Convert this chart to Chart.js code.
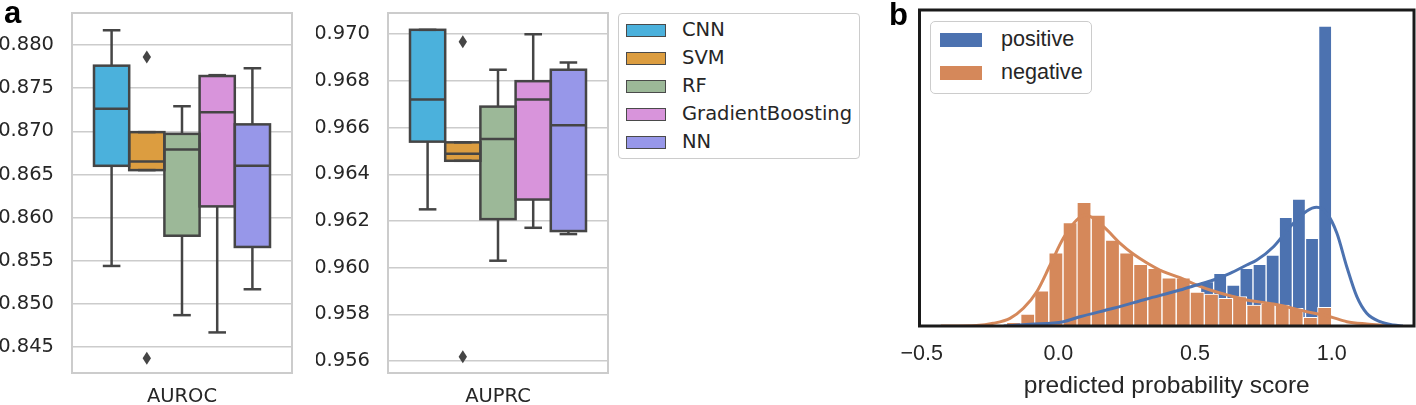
<!DOCTYPE html>
<html>
<head>
<meta charset="utf-8">
<script src="https://cdn.jsdelivr.net/npm/chart.js@4.4.1/dist/chart.umd.min.js"></script>
<style>
  body { margin: 0; background: #fff; }
  #page { position: relative; width: 1416px; height: 405px; overflow: hidden; }
  canvas, .abs { position: absolute; }
  .panel { font: bold 31px "Liberation Sans", Arial, sans-serif; line-height: 31px; color: #000; }
  .row { position: absolute; left: 0; height: 0; }
  .patch { position: absolute; box-sizing: border-box; }
  .txt { position: absolute; white-space: nowrap; color: #262626; }
  #legA { left: 618px; top: 13px; width: 242px; height: 146px; border: 1px solid #cccccc; border-radius: 4px; box-sizing: border-box; }
  #legA .patch { left: 7px; top: -6.5px; width: 40px; height: 13px; border: 1px solid #4a4a4a; }
  #legA .txt { left: 63px; top: -12px; line-height: 24px; font: 19.5px "DejaVu Sans", sans-serif; }
  #legB { left: 930px; top: 21px; width: 162px; height: 73px; border: 1.5px solid #cccccc; border-radius: 5px; box-sizing: border-box; background: #fff; }
  #legB .patch { left: 9px; top: -7px; width: 42px; height: 14px; }
  #legB .txt { left: 70px; top: -14px; line-height: 26px; font: 21.6px "Liberation Sans", Arial, sans-serif; }
</style>
</head>
<body>
<div id="page">
  <canvas id="auroc" width="300" height="405" style="left:0;top:0"></canvas>
  <canvas id="auprc" width="300" height="405" style="left:316px;top:0"></canvas>
  <div id="legA" class="abs"></div>
  <canvas id="hist" width="536" height="405" style="left:880px;top:0"></canvas>
  <div id="legB" class="abs"></div>
  <div class="abs panel" style="left:4px;top:-3px">a</div>
  <div class="abs panel" style="left:889px;top:-1px">b</div>
</div>
<script>
// ---------- panel a: box plots ----------
const models = ['CNN', 'SVM', 'RF', 'GradientBoosting', 'NN'];

const aurocTicks = [0.845, 0.850, 0.855, 0.860, 0.865, 0.870, 0.875, 0.880];
const aurocLow = [0.8544, 0.8655, 0.8487, 0.8467, 0.8517];
const aurocQ1 = [0.8660, 0.8655, 0.8579, 0.8613, 0.8566];
const aurocMedian = [0.8726, 0.8665, 0.8679, 0.8722, 0.8660];
const aurocQ3 = [0.8776, 0.8699, 0.8697, 0.8764, 0.8708];
const aurocHigh = [0.8817, 0.8699, 0.8729, 0.8765, 0.8773];
const aurocOutliers = [[], [0.8786, 0.8437], [], [], []];

const auprcTicks = [0.956, 0.958, 0.960, 0.962, 0.964, 0.966, 0.968, 0.970];
const auprcLow = [0.96250, 0.96458, 0.96030, 0.96171, 0.96144];
const auprcQ1 = [0.96540, 0.96458, 0.96208, 0.96292, 0.96157];
const auprcMedian = [0.96721, 0.96488, 0.96551, 0.96721, 0.96610];
const auprcQ3 = [0.97019, 0.96537, 0.96690, 0.96799, 0.96848];
const auprcHigh = [0.97019, 0.96537, 0.96848, 0.97000, 0.96879];
const auprcOutliers = [[], [0.96968, 0.95619], [], [], []];

// ---------- panel b: histograms + kde ----------
const histTicks = [-0.5, 0.0, 0.5, 1.0];

const negBinWidth = 0.0517;
const negBinCenters = [-0.164, -0.112, -0.061, -0.009, 0.043, 0.094, 0.146, 0.198, 0.250, 0.301, 0.353, 0.405,
  0.457, 0.508, 0.560, 0.612, 0.663, 0.715, 0.767, 0.819, 0.870, 0.922, 0.974];
const negDensity = [0.067, 0.217, 0.638, 1.325, 1.868, 2.237, 2.007, 1.555, 1.325, 1.116, 1.043, 0.873,
  0.873, 0.615, 0.579, 0.501, 0.530, 0.380, 0.410, 0.380, 0.320, 0.157, 0.338];

const posBinWidth = 0.048;
const posBinCenters = [0.544, 0.592, 0.640, 0.688, 0.736, 0.784, 0.832, 0.880, 0.928, 0.976];
const posDensity = [0.801, 0.953, 0.741, 1.043, 1.116, 1.284, 1.966, 2.297, 1.586, 5.425];

const negKdeX = [-0.43, -0.30, -0.238, -0.177, -0.128, -0.079, -0.030, 0.018, 0.067, 0.10, 0.165, 0.226, 0.274,
  0.323, 0.384, 0.445, 0.506, 0.567, 0.628, 0.689, 0.787, 0.909, 0.994, 1.055, 1.128, 1.19, 1.23];
const negKdeY = [0, 0.01, 0.049, 0.139, 0.320, 0.620, 1.103, 1.586, 1.917, 2.007, 1.796, 1.495, 1.302,
  1.145, 0.982, 0.873, 0.741, 0.633, 0.548, 0.470, 0.398, 0.259, 0.168, 0.078, 0.036, 0.013, 0];

const posKdeX = [-0.20, -0.104, 0.018, 0.079, 0.201, 0.323, 0.445, 0.506, 0.567, 0.628, 0.689, 0.726, 0.787,
  0.848, 0.909, 0.945, 0.982, 1.019, 1.055, 1.092, 1.128, 1.177, 1.226, 1.26];
const posKdeY = [0, 0.031, 0.078, 0.168, 0.320, 0.488, 0.651, 0.741, 0.832, 0.953, 1.103, 1.193, 1.434,
  1.796, 2.080, 2.146, 2.038, 1.676, 1.072, 0.530, 0.230, 0.078, 0.018, 0];

// styles
const boxColors = ['#4bb1dc', '#dc9d40', '#9cb898', '#d894db', '#9797e9'];
const boxLine = '#454545';
const gridGray = '#cccccc';
const posColor = '#4c72b0';
const negColor = '#d5885a';

Chart.defaults.font.family = '"DejaVu Sans", sans-serif';
Chart.defaults.color = '#262626';

function framePlugin(color, width) {
  return {
    id: 'frame',
    afterDraw(chart) {
      const { ctx, chartArea: a } = chart;
      ctx.save();
      ctx.strokeStyle = color;
      ctx.lineWidth = width;
      ctx.strokeRect(a.left, a.top, a.right - a.left, a.bottom - a.top);
      ctx.restore();
    }
  };
}

// whiskers, caps, medians, outlines and fliers on top of the floating bars
function boxPlugin(st) {
  return {
    id: 'boxes',
    afterDatasetsDraw(chart) {
      const ctx = chart.ctx;
      const y = chart.scales.y;
      const line = (x1, y1, x2, y2) => { ctx.beginPath(); ctx.moveTo(x1, y1); ctx.lineTo(x2, y2); ctx.stroke(); };
      ctx.save();
      ctx.strokeStyle = boxLine;
      ctx.fillStyle = boxLine;
      ctx.lineWidth = 2.5;
      chart.data.datasets.forEach((ds, i) => {
        const bar = chart.getDatasetMeta(i).data[0];
        const x = bar.x, half = bar.width / 2, cap = half / 2;
        const yLo = y.getPixelForValue(st.low[i]);
        const yQ1 = y.getPixelForValue(st.q1[i]);
        const yMed = y.getPixelForValue(st.med[i]);
        const yQ3 = y.getPixelForValue(st.q3[i]);
        const yHi = y.getPixelForValue(st.high[i]);
        line(x, yQ3, x, yHi);
        line(x, yQ1, x, yLo);
        line(x - cap, yHi, x + cap, yHi);
        line(x - cap, yLo, x + cap, yLo);
        ctx.strokeRect(x - half, yQ3, half * 2, yQ1 - yQ3);
        line(x - half, yMed, x + half, yMed);
        st.out[i].forEach(v => {
          const yy = y.getPixelForValue(v);
          ctx.beginPath();
          ctx.moveTo(x, yy - 6.5);
          ctx.lineTo(x + 4.2, yy);
          ctx.lineTo(x, yy + 6.5);
          ctx.lineTo(x - 4.2, yy);
          ctx.closePath();
          ctx.fill();
        });
      });
      ctx.restore();
    }
  };
}

function boxChart(id, metric, st, ticks, yMin, yMax) {
  return new Chart(document.getElementById(id), {
    type: 'bar',
    data: {
      labels: [metric],
      datasets: models.map((m, i) => ({
        label: m,
        data: [[st.q1[i], st.q3[i]]],
        backgroundColor: boxColors[i],
        borderWidth: 0,
        categoryPercentage: 0.8,
        barPercentage: 1
      }))
    },
    options: {
      responsive: false,
      animation: false,
      layout: { padding: { top: 13, right: 8, left: 0, bottom: 0 } },
      plugins: { legend: { display: false }, tooltip: { enabled: false } },
      scales: {
        x: {
          grid: { display: false, drawTicks: false },
          border: { display: false },
          ticks: { padding: 12, font: { size: 19.5 } },
          afterFit: s => { s.height = 32; }
        },
        y: {
          min: yMin,
          max: yMax,
          bounds: 'data',
          beginAtZero: false,
          grid: { color: gridGray, lineWidth: 1.5, drawTicks: false },
          border: { display: false },
          ticks: {
            padding: 18,
            font: { size: 19.5 },
            callback: v => v.toFixed(3)
          },
          afterBuildTicks: s => { s.ticks = ticks.map(v => ({ value: v })); },
          afterFit: s => { s.width = 72; s.paddingTop = 0; s.paddingBottom = 0; }
        }
      }
    },
    plugins: [boxPlugin(st), framePlugin(gridGray, 2)]
  });
}

boxChart('auroc', 'AUROC',
  { low: aurocLow, q1: aurocQ1, med: aurocMedian, q3: aurocQ3, high: aurocHigh, out: aurocOutliers },
  aurocTicks, 0.8420, 0.8837);
boxChart('auprc', 'AUPRC',
  { low: auprcLow, q1: auprcQ1, med: auprcMedian, q3: auprcQ3, high: auprcHigh, out: auprcOutliers },
  auprcTicks, 0.95549, 0.97091);

// legend a
const legA = document.getElementById('legA');
models.forEach((m, i) => {
  const row = document.createElement('div');
  row.className = 'row';
  row.style.top = (16 + i * 28) + 'px';
  row.innerHTML = `<span class="patch" style="background:${boxColors[i]}"></span><span class="txt">${m}</span>`;
  legA.appendChild(row);
});

// ---------- panel b ----------
const xy = (xs, ys) => xs.map((x, i) => ({ x: x, y: ys[i] }));
const binPx = w => c => {
  const s = c.chart.scales.x;
  const px = s ? Math.abs(s.getPixelForValue(w) - s.getPixelForValue(0)) : NaN;
  return isFinite(px) && px > 0 ? px : undefined;
};
const fontB = { family: '"Liberation Sans", Arial, sans-serif', size: 21.5 };

new Chart(document.getElementById('hist'), {
  type: 'bar',
  data: {
    datasets: [
      { type: 'line', label: 'positive kde', data: xy(posKdeX, posKdeY), borderColor: posColor, borderWidth: 3,
        pointRadius: 0, fill: false, cubicInterpolationMode: 'monotone', order: 0 },
      { type: 'line', label: 'negative kde', data: xy(negKdeX, negKdeY), borderColor: negColor, borderWidth: 3,
        pointRadius: 0, fill: false, cubicInterpolationMode: 'monotone', order: 1 },
      { type: 'bar', label: 'negative', data: xy(negBinCenters, negDensity), backgroundColor: negColor,
        borderColor: '#ffffff', borderWidth: 1, grouped: false, barThickness: binPx(negBinWidth), order: 2 },
      { type: 'bar', label: 'positive', data: xy(posBinCenters, posDensity), backgroundColor: posColor,
        borderColor: '#ffffff', borderWidth: 1, grouped: false, barThickness: binPx(posBinWidth), order: 3 }
    ]
  },
  options: {
    responsive: false,
    animation: false,
    layout: { padding: { left: 39.5, right: 2, top: 10, bottom: 0 } },
    plugins: { legend: { display: false }, tooltip: { enabled: false } },
    scales: {
      x: {
        type: 'linear',
        min: -0.508,
        max: 1.301,
        bounds: 'data',
        offset: false,
        grid: { display: false, offset: false, drawTicks: false },
        border: { display: false },
        ticks: {
          padding: 15,
          font: fontB,
          color: '#262626',
          callback: v => (v < 0 ? '\u2212' : '') + Math.abs(v).toFixed(1)
        },
        afterBuildTicks: s => { s.ticks = histTicks.map(v => ({ value: v })); },
        title: {
          display: true,
          text: 'predicted probability score',
          font: { family: fontB.family, size: 24.5 },
          color: '#262626',
          padding: { top: 0, bottom: 4 }
        },
        afterFit: s => { s.height = 79; }
      },
      y: { display: false, min: 0, max: 5.714, stacked: false, beginAtZero: true }
    }
  },
  plugins: [framePlugin('#1a1a1a', 3)]
});

// legend b
const legB = document.getElementById('legB');
[['positive', posColor], ['negative', negColor]].forEach(([name, col], i) => {
  const row = document.createElement('div');
  row.className = 'row';
  row.style.top = (18 + i * 33) + 'px';
  row.innerHTML = `<span class="patch" style="background:${col}"></span><span class="txt">${name}</span>`;
  legB.appendChild(row);
});
</script>
</body>
</html>
